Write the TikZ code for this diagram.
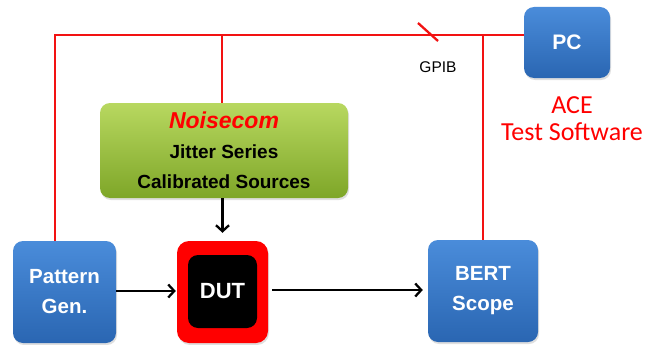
\documentclass[tikz,border=0pt]{standalone}
\usepackage{fontspec}
\setmainfont{Liberation Sans}
\newfontfamily\carlitofont{Carlito}
\usetikzlibrary{arrows.meta,shadows}
\definecolor{bluetop}{RGB}{74,140,218}
\definecolor{bluebot}{RGB}{42,102,178}
\definecolor{greentop}{RGB}{184,216,96}
\definecolor{greenbot}{RGB}{126,166,40}
\definecolor{busred}{RGB}{242,18,18}
\tikzset{
  bluebox/.style={rounded corners=10pt, top color=bluetop, bottom color=bluebot,
    draw=none, text=white, font=\fontsize{20.5}{30}\selectfont\bfseries, align=center,
    inner sep=0pt, drop shadow={opacity=0.25, shadow xshift=1pt, shadow yshift=-2pt}},
  greenbox/.style={rounded corners=10pt, top color=greentop, bottom color=greenbot,
    draw=none, align=center, inner sep=0pt,
    drop shadow={opacity=0.25, shadow xshift=1pt, shadow yshift=-2pt}},
  bus/.style={draw=busred, line width=2.3pt},
  sig/.style={draw=black, line width=2.3pt, -{Straight Barb[length=6pt,width=13pt,line width=2.3pt]}},
}
\begin{document}
\begin{tikzpicture}[x=1pt,y=-1pt]
\useasboundingbox (0,0) rectangle (661,345);
\fill[white] (0,0) rectangle (661,345);
% boxes
\node[bluebox, minimum width=103pt, minimum height=102pt] (pg) at (64.5,292) {Pattern\\Gen.};
\node[bluebox, minimum width=110pt, minimum height=102pt] (bert) at (483,291) {BERT\\Scope};
\node[bluebox, minimum width=86pt, minimum height=71pt, font=\fontsize{21}{25}\selectfont\bfseries] (pc) at (567,42.5) {PC};
\node[rounded corners=12pt, fill=red, minimum width=91pt, minimum height=102pt, inner sep=0pt,
  drop shadow={opacity=0.25, shadow xshift=1pt, shadow yshift=-2pt}] (dut) at (222.5,292) {};
\node[rounded corners=10pt, fill=black, minimum width=69pt, minimum height=73pt, inner sep=0pt,
  text=white, font=\fontsize{22}{26}\selectfont\bfseries] (dutin) at (222.5,291.5) {DUT};
\node[greenbox, minimum width=248pt, minimum height=95pt,
  font=\fontsize{19}{30}\selectfont\bfseries] (noise) at (224,150.5)
  {{\fontsize{23}{30}\selectfont\itshape\color{red}Noisecom}\\Jitter Series\\Calibrated Sources};
% labels
\node[font=\fontsize{15.5}{18}\selectfont] (gpib) at (438,67) {GPIB};
\node[font=\carlitofont\fontsize{26}{27}\selectfont, text=red, align=center] (ace) at (572,119) {ACE\\Test Software};
% bus
\coordinate (busR) at (pc.west |- 0,35);
\draw[bus] ([xshift=-9.5pt]pg.north) |- (busR);
\draw[bus] ([xshift=-2pt]noise.north) -- ([xshift=-2pt]noise.north |- busR);
\draw[bus] (bert.north) -- (bert.north |- busR);
\draw[bus] (418,23) -- (438,41);
% signals
\draw[sig, shorten >=1pt] (pg.east |- 0,291) -- (dut.west |- 0,291);
\draw[sig, shorten <=4pt, shorten >=5pt] (dut.east |- 0,290) -- (bert.west |- 0,290);
\draw[sig, shorten >=8pt] (noise.south -| dut.north) -- (dut.north);
\end{tikzpicture}
\end{document}
